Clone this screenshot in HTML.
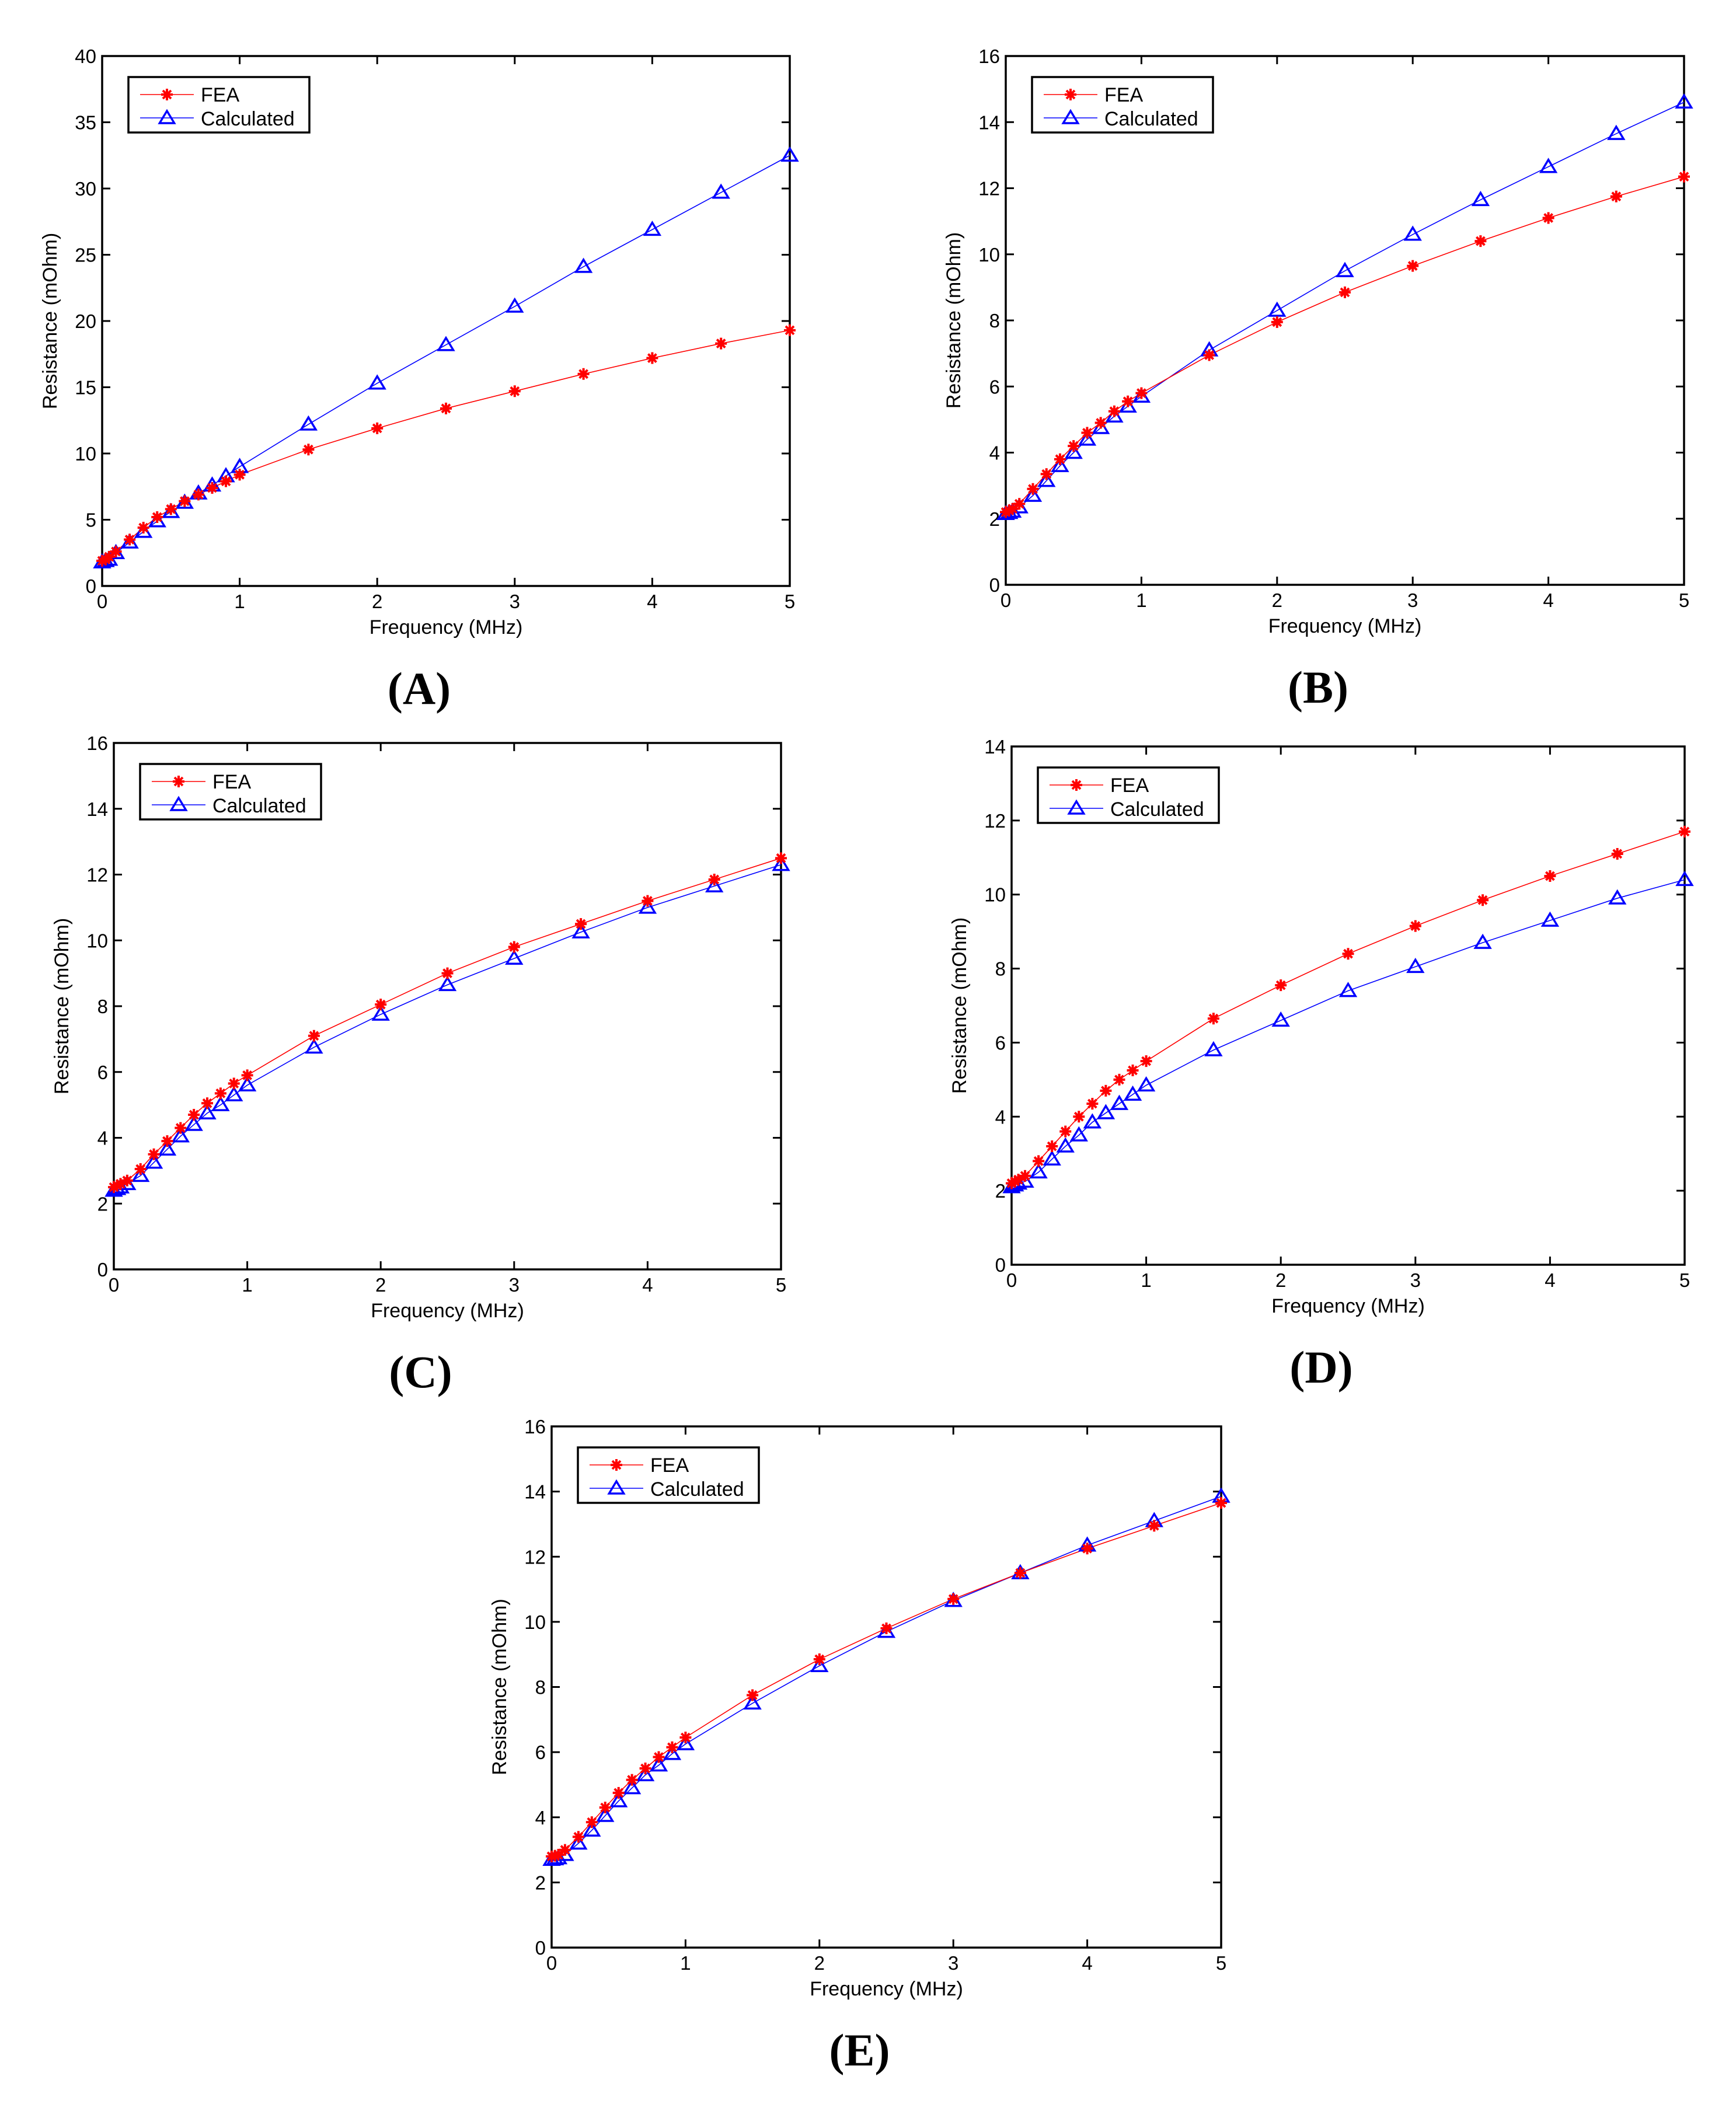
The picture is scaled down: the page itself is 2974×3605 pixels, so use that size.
<!DOCTYPE html>
<html><head><meta charset="utf-8">
<style>
html,body{margin:0;padding:0;background:#fff;}
svg{display:block;}
text{font-family:"Liberation Sans",sans-serif;}
</style></head>
<body>
<svg id="fig" width="2974" height="3605" viewBox="0 0 2974 3605" xmlns="http://www.w3.org/2000/svg"></svg>
<script>
const freqMHz = [0,0.025,0.05,0.1,0.2,0.3,0.4,0.5,0.6,0.7,0.8,0.9,1,1.5,2,2.5,3,3.5,4,4.5,5];
const xTicks = [0,1,2,3,4,5];
const feaA = [1.9,2.0,2.2,2.6,3.5,4.4,5.2,5.8,6.4,6.9,7.4,7.9,8.4,10.3,11.9,13.4,14.7,16.0,17.2,18.3,19.3];
const calcA = [1.8,1.9,2.0,2.5,3.3,4.1,4.9,5.6,6.3,7.0,7.6,8.3,9.0,12.2,15.3,18.2,21.1,24.1,26.9,29.7,32.5];
const yTicksA = [0,5,10,15,20,25,30,35,40];
const feaB = [2.2,2.25,2.3,2.45,2.9,3.35,3.8,4.2,4.6,4.9,5.25,5.55,5.8,6.95,7.95,8.85,9.65,10.4,11.1,11.75,12.35];
const calcB = [2.15,2.18,2.22,2.35,2.7,3.15,3.6,4.0,4.4,4.75,5.1,5.4,5.7,7.1,8.3,9.5,10.6,11.65,12.65,13.65,14.6];
const yTicksB = [0,2,4,6,8,10,12,14,16];
const feaC = [2.5,2.55,2.6,2.7,3.05,3.5,3.9,4.3,4.7,5.05,5.35,5.65,5.9,7.1,8.05,9.0,9.8,10.5,11.2,11.85,12.5];
const calcC = [2.4,2.45,2.5,2.6,2.85,3.25,3.65,4.05,4.4,4.75,5.0,5.3,5.6,6.75,7.75,8.65,9.45,10.25,11.0,11.65,12.3];
const yTicksC = [0,2,4,6,8,10,12,14,16];
const feaD = [2.2,2.25,2.3,2.4,2.8,3.2,3.6,4.0,4.35,4.7,5.0,5.25,5.5,6.65,7.55,8.4,9.15,9.85,10.5,11.1,11.7];
const calcD = [2.1,2.15,2.2,2.25,2.5,2.85,3.2,3.5,3.85,4.1,4.35,4.6,4.85,5.8,6.6,7.4,8.05,8.7,9.3,9.9,10.4];
const yTicksD = [0,2,4,6,8,10,12,14];
const feaE = [2.8,2.82,2.85,3.0,3.4,3.85,4.3,4.75,5.15,5.5,5.85,6.15,6.45,7.75,8.85,9.8,10.7,11.5,12.25,12.95,13.65];
const calcE = [2.7,2.72,2.75,2.85,3.2,3.6,4.05,4.5,4.9,5.3,5.6,5.95,6.25,7.5,8.65,9.7,10.65,11.5,12.35,13.1,13.85];
const yTicksE = [0,2,4,6,8,10,12,14,16];

const NS="http://www.w3.org/2000/svg";
const svg=document.getElementById('fig');
function mk(tag,attrs,parent){const e=document.createElementNS(NS,tag);for(const k in attrs)e.setAttribute(k,attrs[k]);(parent||svg).appendChild(e);return e;}
function star(g,x,y,s){
  return mk('path',{d:`M${x-s},${y}H${x+s}M${x},${y-s}V${y+s}M${x-s*0.7},${y-s*0.7}L${x+s*0.7},${y+s*0.7}M${x-s*0.7},${y+s*0.7}L${x+s*0.7},${y-s*0.7}`,stroke:'#ff0000','stroke-width':4,fill:'none'},g);
}
function tri(g,x,y,s){
  return mk('path',{d:`M${x},${y-s}L${x+s*1.05},${y+s*0.75}L${x-s*1.05},${y+s*0.75}Z`,stroke:'#0000ff','stroke-width':3.5,fill:'none'},g);
}
function panel(id,box,yTicks,fea,calc,label){
  const [L,R,T,B]=box;
  const g=mk('g',{});
  
  
  const ymax=yTicks[yTicks.length-1];
  const sx=v=>L+(v-0)/5*(R-L);
  const sy=v=>B-v/ymax*(B-T);
  xTicks.forEach(t=>{
    const x=sx(t);
    mk('line',{x1:x,y1:B,x2:x,y2:B-14,stroke:'#000','stroke-width':3},g);
    mk('line',{x1:x,y1:T,x2:x,y2:T+14,stroke:'#000','stroke-width':3},g);
    const tx=mk('text',{x:x,y:B+38,'font-size':33,'text-anchor':'middle'},g);
    tx.textContent=t;
    
    
  });
  yTicks.forEach(t=>{
    const y=sy(t);
    mk('line',{x1:L,y1:y,x2:L+14,y2:y,stroke:'#000','stroke-width':3},g);
    mk('line',{x1:R,y1:y,x2:R-14,y2:y,stroke:'#000','stroke-width':3},g);
    const tx=mk('text',{x:L-10,y:y+12,'font-size':33,'text-anchor':'end'},g);
    tx.textContent=t;
    
    
  });
  const fr=mk('rect',{x:L,y:T,width:R-L,height:B-T,fill:'none',stroke:'#000','stroke-width':3.5},g);
  
  
  const cl=mk('polyline',{points:freqMHz.map((f,i)=>sx(f)+','+sy(calc[i])).join(' '),fill:'none',stroke:'#0000ff','stroke-width':1.6},g);
  
  
  const fl=mk('polyline',{points:freqMHz.map((f,i)=>sx(f)+','+sy(fea[i])).join(' '),fill:'none',stroke:'#ff0000','stroke-width':1.6},g);
  
  
  freqMHz.forEach((f,i)=>{
    const m=tri(g,sx(f),sy(calc[i]),12);
    
    
  });
  freqMHz.forEach((f,i)=>{
    const m=star(g,sx(f),sy(fea[i]),10);
    
    
  });
  const xt=mk('text',{x:(L+R)/2,y:B+82,'font-size':34,'text-anchor':'middle'},g);
  xt.textContent='Frequency (MHz)';
  
  
  const yc=(T+B)/2, yx=L-78;
  const yt=mk('text',{x:yx,y:yc,'font-size':34,'text-anchor':'middle',transform:`rotate(-90 ${yx} ${yc})`},g);
  yt.textContent='Resistance (mOhm)';
  
  
  const lx=L+45, ly=T+36;
  const lg=mk('g',{},g);
  
  
  mk('rect',{x:lx,y:ly,width:310,height:95,fill:'#fff',stroke:'#000','stroke-width':3.5},lg);
  mk('line',{x1:lx+20,y1:ly+30,x2:lx+112,y2:ly+30,stroke:'#ff0000','stroke-width':1.6},lg);
  star(lg,lx+66,ly+30,10);
  const t1=mk('text',{x:lx+124,y:ly+42,'font-size':34},lg);t1.textContent='FEA';
  
  
  mk('line',{x1:lx+20,y1:ly+70,x2:lx+112,y2:ly+70,stroke:'#0000ff','stroke-width':1.6},lg);
  tri(lg,lx+66,ly+70,12);
  const t2=mk('text',{x:lx+124,y:ly+83,'font-size':34},lg);t2.textContent='Calculated';
  
  
  const pl=mk('text',{x:(L+R)/2-46,y:B+202,'text-anchor':'middle',style:'font-family:"Liberation Serif",serif;font-size:78px;font-weight:bold;'},g);
  pl.textContent='('+label+')';
  
  
}
panel('a',[175,1353,96,1004],yTicksA,feaA,calcA,'A');
panel('b',[1723,2885,96,1002],yTicksB,feaB,calcB,'B');
panel('c',[195,1338,1273,2175],yTicksC,feaC,calcC,'C');
panel('d',[1733,2886,1279,2167],yTicksD,feaD,calcD,'D');
panel('e',[945,2092,2444,3337],yTicksE,feaE,calcE,'E');
</script>
</body></html>
